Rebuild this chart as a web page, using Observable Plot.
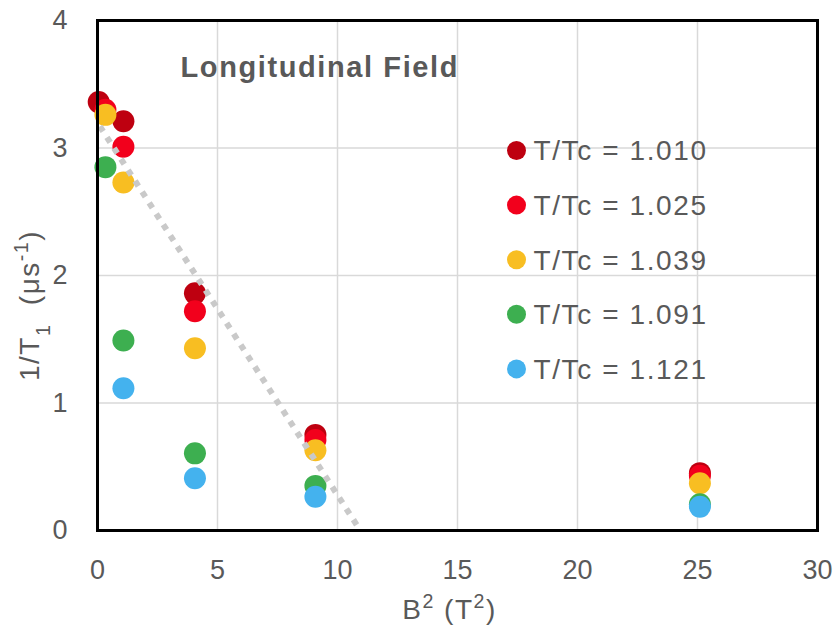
<!DOCTYPE html>
<html>
<head>
<meta charset="utf-8">
<script src="https://cdn.jsdelivr.net/npm/d3@7"></script>
<script src="https://cdn.jsdelivr.net/npm/@observablehq/plot@0.6"></script>
<style>
  html, body { margin: 0; padding: 0; background: #fff; }
</style>
</head>
<body>
<div id="chart"></div>
<script>
// ---- data ----
const seriesNames = ["T/Tc = 1.010", "T/Tc = 1.025", "T/Tc = 1.039", "T/Tc = 1.091", "T/Tc = 1.121"];
const seriesColors = ["#BE0010", "#F2001C", "#F8BE22", "#3DAF50", "#44B2EE"];

const x1010 = [0.05, 1.08, 4.06, 9.08, 25.1];
const y1010 = [3.36, 3.21, 1.86, 0.75, 0.45];
const x1025 = [0.33, 1.08, 4.06, 9.08, 25.1];
const y1025 = [3.30, 3.01, 1.72, 0.71, 0.43];
const x1039 = [0.33, 1.08, 4.06, 9.08, 25.1];
const y1039 = [3.26, 2.73, 1.43, 0.63, 0.37];
const x1091 = [0.33, 1.08, 4.06, 9.08, 25.1];
const y1091 = [2.85, 1.49, 0.605, 0.35, 0.205];
const x1121 = [1.08, 4.06, 9.08, 25.1];
const y1121 = [1.115, 0.41, 0.265, 0.187];

const trendX = [0.1, 10.95];
const trendY = [3.17, 0];

const xTicks = [0, 5, 10, 15, 20, 25, 30];
const yTicks = [0, 1, 2, 3, 4];
const titleText = "Longitudinal Field";
const xLabel = "B^{2} (T^{2})";
const yLabel = "1/T_{1}  (μs^{-1})";

// ---- build tables ----
const xs = [x1010, x1025, x1039, x1091, x1121];
const ys = [y1010, y1025, y1039, y1091, y1121];
const points = [];
xs.forEach((xa, i) => xa.forEach((xv, j) => points.push({x: xv, y: ys[i][j], s: seriesNames[i]})));
const trend = trendX.map((v, i) => ({x: v, y: trendY[i]}));
const legend = seriesNames.map((n, i) => ({name: n, i}));

const ink = "#595959";
const font = "Liberation Sans, Arial, Helvetica, sans-serif";

const plot = Plot.plot({
  width: 838,
  height: 627,
  marginLeft: 97,
  marginRight: 21,
  marginTop: 20,
  marginBottom: 97,
  style: {fontFamily: font, fontSize: "27px", color: ink, background: "white", overflow: "visible"},
  x: {domain: [0, 30], ticks: xTicks, tickSize: 0, tickPadding: 29, label: null, tickFormat: d => String(d)},
  y: {domain: [0, 4], ticks: yTicks, tickSize: 0, tickPadding: 30, label: null, tickFormat: d => String(d)},
  color: {domain: seriesNames, range: seriesColors},
  marks: [
    Plot.ruleX(xTicks.slice(1, -1), {stroke: "#d9d9d9", strokeWidth: 1.5}),
    Plot.ruleY(yTicks.slice(1, -1), {stroke: "#d9d9d9", strokeWidth: 1.5}),
    Plot.dot(points, {x: "x", y: "y", fill: "s", r: 11, stroke: null}),
    Plot.line(trend, {x: "x", y: "y", stroke: "#c9c9c9", strokeWidth: 6, strokeDasharray: "6,7", strokeLinecap: "butt"}),
    Plot.frame({stroke: "black", strokeWidth: 3}),
    Plot.text([titleText], {text: d => d, frameAnchor: "top-left", dx: 83, dy: 47.5, textAnchor: "start", lineAnchor: "middle",
      fontWeight: "bold", fontSize: 29, fill: ink}),
    ...legend.map(d => Plot.dot([d], {frameAnchor: "top-left", dx: 419, dy: 130 + d.i * 54.6, r: 9.5, fill: seriesColors[d.i]})),
    ...legend.map(d => Plot.text([d], {text: "name", frameAnchor: "top-left", dx: 436, dy: 131 + d.i * 54.6,
      textAnchor: "start", lineAnchor: "middle", fontSize: 28, fill: ink})),
    Plot.text([xLabel], {text: d => d, frameAnchor: "bottom", dx: -8, dy: 88, textAnchor: "middle", fontSize: 28, fill: ink}),
    Plot.text([yLabel], {text: d => d, frameAnchor: "left", dx: -67, dy: 30, rotate: -90, textAnchor: "middle", lineAnchor: "middle", fontSize: 28, fill: ink})
  ]
});

// rich text: convert _{..} and ^{..} into tspans
function richify(el) {
  const s = el.textContent;
  if (!/[_^]\{/.test(s)) return;
  el.textContent = "";
  const re = /([_^])\{([^}]*)\}/g;
  let last = 0, m;
  const add = (txt, kind) => {
    if (!txt) return;
    const t = document.createElementNS("http://www.w3.org/2000/svg", "tspan");
    t.textContent = txt;
    if (kind === "^") { t.setAttribute("baseline-shift", "super"); t.setAttribute("font-size", "0.7em"); }
    if (kind === "_") { t.setAttribute("baseline-shift", "sub"); t.setAttribute("font-size", "0.7em"); }
    el.appendChild(t);
  };
  while ((m = re.exec(s))) {
    add(s.slice(last, m.index), null);
    add(m[2], m[1]);
    last = m.index + m[0].length;
  }
  add(s.slice(last), null);
}
plot.querySelectorAll("text").forEach(t => {
  const s = t.textContent;
  if (seriesNames.includes(s)) t.setAttribute("letter-spacing", "1.6px");
  else if (s === titleText) t.setAttribute("letter-spacing", "1.6px");
  else if (s === xLabel || s === yLabel) t.setAttribute("letter-spacing", "1.5px");
  t.setAttribute("xml:space", "preserve");
  t.style.whiteSpace = "pre";
});
plot.querySelectorAll("text").forEach(richify);

document.getElementById("chart").appendChild(plot);
</script>
</body>
</html>
